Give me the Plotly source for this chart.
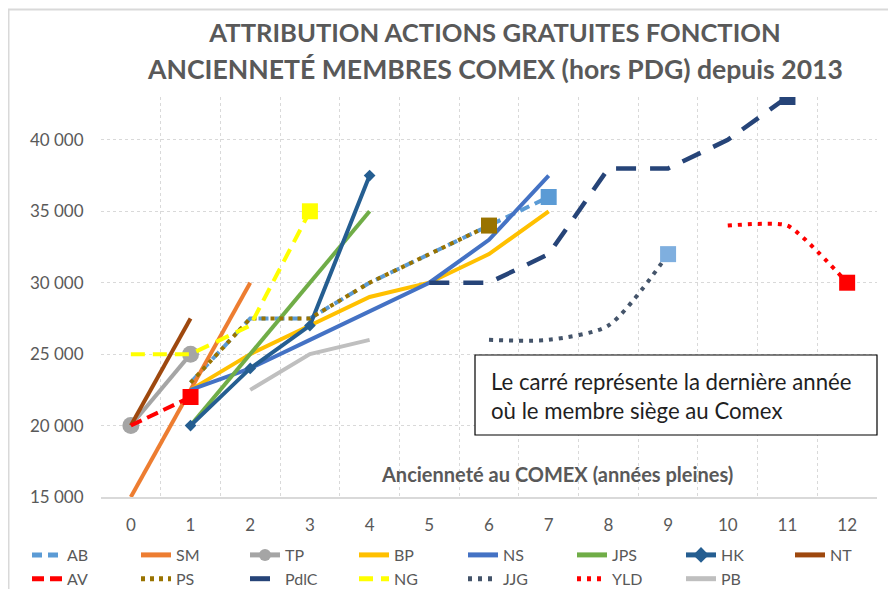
import plotly.graph_objects as go

# ---------------- data ----------------
X = list(range(13))
X_TICK_LABELS = [str(v) for v in X]
Y_TICKS = [15000, 20000, 25000, 30000, 35000, 40000]

AB   = [None, 23000, 27500, 27500, 30000, 32000, 34000, 36000, None, None, None, None, None]
SM   = [15000, 22500, 30000, None, None, None, None, None, None, None, None, None, None]
TP   = [20000, 25000, None, None, None, None, None, None, None, None, None, None, None]
BP   = [None, 22500, 25000, 27000, 29000, 30000, 32000, 35000, None, None, None, None, None]
NS   = [None, 22500, 24000, 26000, 28000, 30000, 33000, 37500, None, None, None, None, None]
JPS  = [None, 20000, 25000, 30000, 35000, None, None, None, None, None, None, None, None]
HK   = [None, 20000, 24000, 27000, 37500, None, None, None, None, None, None, None, None]
NT   = [20000, 27500, None, None, None, None, None, None, None, None, None, None, None]
AV   = [20000, 22000, None, None, None, None, None, None, None, None, None, None, None]
PS   = [None, 23000, 27500, 27500, 30000, 32000, 34000, None, None, None, None, None, None]
PDLC = [None, None, None, None, None, 30000, 30000, 32000, 38000, 38000, 40000, 43000, None]
NG   = [25000, 25000, 27000, 35000, None, None, None, None, None, None, None, None, None]
JJG  = [None, None, None, None, None, None, 26000, 26000, 27000, 32000, None, None, None]
YLD  = [None, None, None, None, None, None, None, None, None, None, 34000, 34000, 30000]
PB   = [None, None, 22500, 25000, 26000, None, None, None, None, None, None, None, None]

SERIES = [("AB", AB), ("SM", SM), ("TP", TP), ("BP", BP), ("NS", NS), ("JPS", JPS),
          ("HK", HK), ("NT", NT), ("AV", AV), ("PS", PS), ("PdlC", PDLC), ("NG", NG),
          ("JJG", JJG), ("YLD", YLD), ("PB", PB)]

# ---------------- styles ----------------
STYLE = {
    "AB":   dict(color="#5B9BD5", dash="10px,6px", width=4, end="#5B9BD5"),
    "SM":   dict(color="#ED7D31", dash="solid", width=4),
    "TP":   dict(color="#A5A5A5", dash="solid", width=4, marker=dict(symbol="circle", size=17)),
    "BP":   dict(color="#FFC000", dash="solid", width=4),
    "NS":   dict(color="#4472C4", dash="solid", width=4),
    "JPS":  dict(color="#70AD47", dash="solid", width=4),
    "HK":   dict(color="#255E91", dash="solid", width=4, marker=dict(symbol="diamond", size=9)),
    "NT":   dict(color="#9E480E", dash="solid", width=4),
    "AV":   dict(color="#FF0000", dash="12px,6px", width=4, end="#FF0000"),
    "PS":   dict(color="#997300", dash="4px,5px", width=4, end="#997300"),
    "PdlC": dict(color="#264478", dash="20px,14px", width=4.5, end="#264478"),
    "NG":   dict(color="#FFFF00", dash="14px,8px", width=4, end="#FFFF00"),
    "JJG":  dict(color="#44546A", dash="4px,6px", width=4, end="#7FAFDF", shape="spline", smoothing=0.7),
    "YLD":  dict(color="#FF0000", dash="4px,6px", width=4, end="#FF0000", shape="spline", smoothing=0.5),
    "PB":   dict(color="#BFBFBF", dash="solid", width=4),
}

GREY_TEXT = "#595959"
GRID = "#D9D9D9"
FONT = "Lato"

fig = go.Figure()

for name, vals in SERIES:
    st = STYLE[name]
    xs = [x for x, v in zip(X, vals) if v is not None]
    ys = [v for v in vals if v is not None]
    line = dict(color=st["color"], width=st["width"], dash=st["dash"],
                shape=st.get("shape", "linear"))
    if "smoothing" in st:
        line["smoothing"] = st["smoothing"]
    kw = dict(x=xs, y=ys, name=name, line=line, mode="lines", hoverinfo="skip")
    if "marker" in st:
        kw["mode"] = "lines+markers"
        kw["marker"] = dict(color=st["color"], **st["marker"])
    fig.add_trace(go.Scatter(**kw))
    if "end" in st:
        fig.add_trace(go.Scatter(
            x=[xs[-1]], y=[ys[-1]], mode="markers", showlegend=False, hoverinfo="skip",
            marker=dict(symbol="square", size=16, color=st["end"]),
        ))

# The page body adds an 8px offset; the figure is sized to fill the rest of the window.
OFF = 8
W, H = 896 - OFF, 589 - OFF
PLOT_L = 101 - OFF
PLOT_T = 97 - OFF
PLOT_R = W - (877 - OFF)
PLOT_B = H - (497 - OFF)
PW = W - PLOT_L - PLOT_R
PH = H - PLOT_T - PLOT_B


def px_x(p):
    """page pixel -> paper x"""
    return (p - OFF - PLOT_L) / PW


def px_y(p):
    """page pixel -> paper y"""
    return (H - PLOT_B - (p - OFF)) / PH


minor_vals = [x - 0.5 for x in X] + [X[-1] + 0.5]

fig.update_layout(
    width=W, height=H,
    margin=dict(l=PLOT_L, r=PLOT_R, t=PLOT_T, b=PLOT_B, autoexpand=False),
    plot_bgcolor="white", paper_bgcolor="white",
    separators=", ",
    font=dict(family=FONT, color=GREY_TEXT),
    title=dict(
        text="<b>ATTRIBUTION ACTIONS GRATUITES FONCTION</b>",
        font=dict(family=FONT, size=25.6, color=GREY_TEXT),
        x=(495 - OFF) / W, xanchor="center", xref="container",
        y=1 - (33 - OFF) / H, yanchor="middle", yref="container",
    ),
    xaxis=dict(
        range=[-0.5, 12.5],
        tickmode="array", tickvals=X, ticktext=X_TICK_LABELS,
        showgrid=False, zeroline=False,
        showline=True, linecolor=GRID, linewidth=2,
        ticks="outside", ticklen=12, tickcolor="rgba(0,0,0,0)",
        tickfont=dict(family=FONT, size=17, color=GREY_TEXT),
        minor=dict(tickmode="array", tickvals=minor_vals, showgrid=True,
                   gridcolor=GRID, griddash="dot", gridwidth=1, ticks=""),
        fixedrange=True,
    ),
    yaxis=dict(
        range=[15000, 43000],
        tickmode="array", tickvals=Y_TICKS, tickformat=",d",
        showgrid=True, gridcolor=GRID, griddash="dot", gridwidth=1,
        zeroline=False, showline=False,
        ticks="outside", ticklen=13, tickcolor="rgba(0,0,0,0)",
        tickfont=dict(family=FONT, size=17, color=GREY_TEXT),
        fixedrange=True,
    ),
    legend=dict(
        orientation="h", x=px_x(27), xanchor="left", y=px_y(538), yanchor="top",
        font=dict(family=FONT, size=16, color=GREY_TEXT),
        entrywidth=64, itemsizing="constant", traceorder="normal",
        bgcolor="rgba(0,0,0,0)",
    ),
    showlegend=True,
)

# second title line
fig.add_annotation(
    text="<b>ANCIENNETÉ MEMBRES COMEX (hors PDG) depuis 2013</b>",
    xref="paper", yref="paper", x=px_x(495), y=px_y(69),
    xanchor="center", yanchor="middle", showarrow=False,
    font=dict(family=FONT, size=26.6, color=GREY_TEXT),
)

# axis title inside the plot
fig.add_annotation(
    text="<b>Ancienneté au COMEX (années pleines)</b>",
    xref="paper", yref="paper", x=px_x(557), y=px_y(474),
    xanchor="center", yanchor="middle", showarrow=False,
    font=dict(family=FONT, size=20, color=GREY_TEXT),
)

# note box
fig.add_shape(
    type="rect", xref="paper", yref="paper",
    x0=px_x(475), x1=px_x(877), y0=px_y(435), y1=px_y(355),
    line=dict(color="black", width=1.2), fillcolor="white", layer="above",
)
fig.add_annotation(
    text="Le carré représente la dernière année<br>où le membre siège au Comex",
    xref="paper", yref="paper", x=px_x(489), y=px_y(396),
    xanchor="left", yanchor="middle", align="left", showarrow=False,
    font=dict(family=FONT, size=22.2, color="#1F1F1F"),
)

# chart outer frame (left and top edges visible)
fig.add_shape(
    type="rect", xref="paper", yref="paper",
    x0=px_x(8.5), x1=px_x(910), y0=px_y(600), y1=px_y(9.5),
    line=dict(color=GRID, width=2), fillcolor="rgba(0,0,0,0)", layer="below",
)

fig.write_html("out.html")
